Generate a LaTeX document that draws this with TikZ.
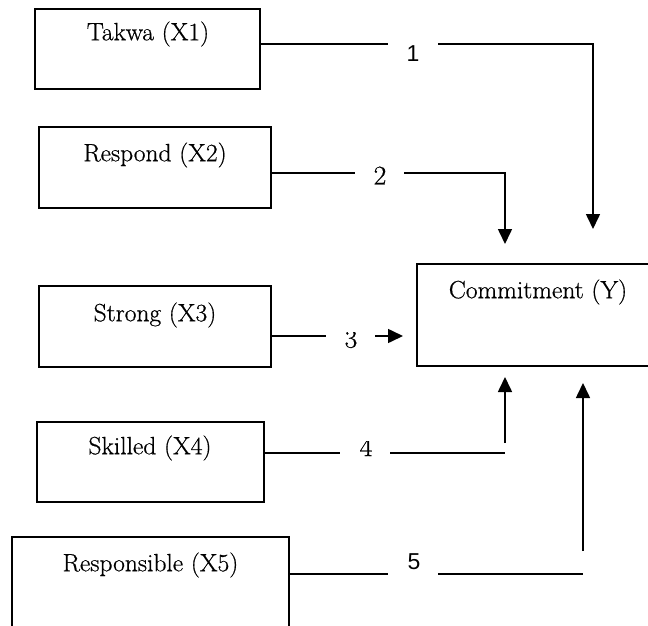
\documentclass[tikz,border=0pt]{standalone}
\usepackage{fontspec}
\newfontfamily\numfont{Liberation Sans}
\newfontfamily\boxfont{Latin Modern Roman}[FakeStretch=1.02,FakeBold=0.6]
\usetikzlibrary{arrows.meta}
\begin{document}
\begin{tikzpicture}[x=1pt,y=-1pt,
  varbox/.style={draw, line width=1.8pt, rectangle, inner sep=0pt},
  boxtext/.style={inner sep=0pt, font=\boxfont\fontsize{25}{29}\selectfont},
  numlabel/.style={inner sep=0pt, font=\numfont\fontsize{23}{27}\selectfont},
  serlabel/.style={inner sep=0pt, font=\boxfont\fontsize{27}{31}\selectfont},
  conn/.style={line width=1.6pt},
  arr/.style={line width=1.6pt, -{Triangle[length=15pt,width=14pt]}}]
\useasboundingbox (0,0) rectangle (648,626);
\fill[white] (0,0) rectangle (648,626);
\clip (0,0) rectangle (648,626);
% boxes
\node[varbox, minimum width=225pt, minimum height=80pt] (x1) at (147.5,49) {};
\node[varbox, minimum width=232pt, minimum height=81pt] (x2) at (155,167.5) {};
\node[varbox, minimum width=232pt, minimum height=81pt] (x3) at (155,326.5) {};
\node[varbox, minimum width=227pt, minimum height=80pt] (x4) at (150.5,462) {};
\node[varbox, minimum width=277pt, minimum height=100pt] (x5) at (150.5,587) {};
\node[varbox, minimum width=243pt, minimum height=102pt] (y) at (538.5,315) {};
% box texts
\node[boxtext] (x1t) at (148,34) {Takwa (X1)};
\node[boxtext] (x2t) at (155,155) {Respond (X2)};
\node[boxtext] (x3t) at (155,315) {Strong (X3)};
\node[boxtext] (x4t) at (150,448) {Skilled (X4)};
\node[boxtext] (x5t) at (150.5,565) {Responsible (X5)};
\node[boxtext] (yt) at (538,292) {Commitment (Y)};
% number labels
\node[numlabel] (n1) at (413,54) {1};
\node[serlabel] (n2) at (380,175.5) {2};
\begin{scope}
\clip (330,332) rectangle (372,360);
\node[serlabel] (n3) at (351,339) {3};
\end{scope}
\begin{scope}
\clip (345,441) rectangle (387,470);
\node[serlabel] (n4) at (366,447) {4};
\end{scope}
\node[numlabel] (n5) at (414,562) {5};
% connector points
\coordinate (a1) at (388,44); \coordinate (b1) at (438,44); \coordinate (t1) at (593,229);
\coordinate (a2) at (355,173); \coordinate (b2) at (404,173); \coordinate (t2) at (505,244);
\coordinate (a3) at (326,336); \coordinate (b3) at (375,336); \coordinate (t3) at (403,336);
\coordinate (a4) at (340,453); \coordinate (b4) at (390,453); \coordinate (e4) at (505,453);
\coordinate (s4) at (505,443); \coordinate (t4) at (505,377);
\coordinate (a5) at (388,574); \coordinate (b5) at (438,574); \coordinate (e5) at (583,574);
\coordinate (s5) at (583,551); \coordinate (t5) at (583,383);
% connectors
\draw[conn] (x1.east |- a1) -- (a1);
\draw[arr] (b1) -| (t1);
\draw[conn] (x2.east |- a2) -- (a2);
\draw[arr] (b2) -| (t2);
\draw[conn] (x3.east |- a3) -- (a3);
\draw[arr] (b3) -- (t3);
\draw[conn] (x4.east |- a4) -- (a4);
\draw[conn] (b4) -- (e4);
\draw[arr] (s4) -- (t4);
\draw[conn] (x5.east |- a5) -- (a5);
\draw[conn] (b5) -- (e5);
\draw[arr] (s5) -- (t5);
\end{tikzpicture}
\end{document}
